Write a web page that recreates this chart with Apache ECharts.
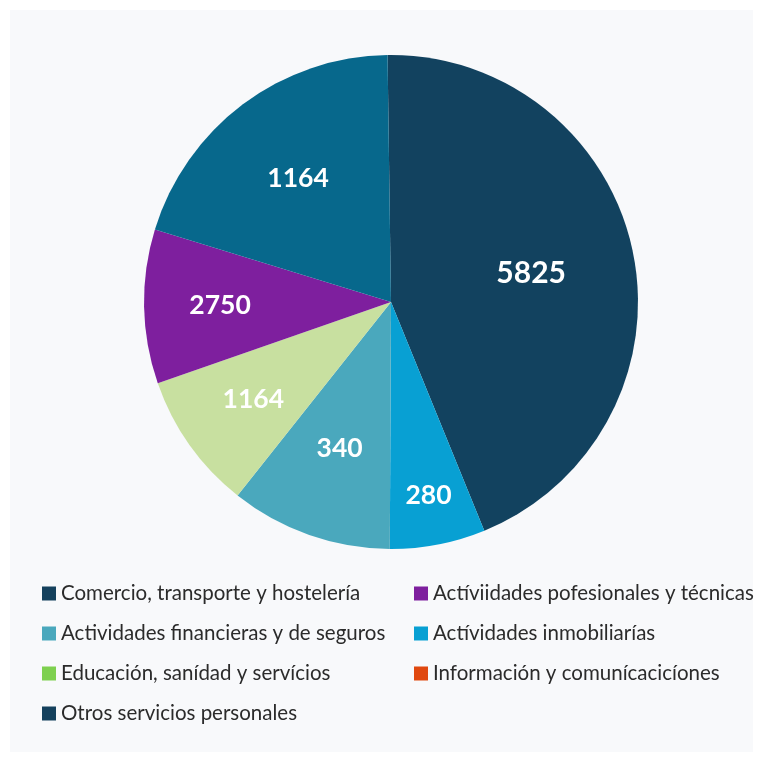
<!DOCTYPE html>
<html>
<head>
<meta charset="utf-8">
<script src="https://cdn.jsdelivr.net/npm/echarts@6/dist/echarts.min.js"></script>
<style>
  html, body { margin: 0; padding: 0; background: #ffffff; }
  #chart { width: 763px; height: 762px; }
</style>
</head>
<body>
<div id="chart"></div>
<script>
// Categories in clockwise slice order (starting at 12 o'clock)
const categories = [
  'Comercio, transporte y hostelería',
  'Actívidades inmobiliarías',
  'Actividades financieras y de seguros',
  'Educación, sanídad y servícios',
  'Actíviidades pofesionales y técnicas',
  'Otros servicios personales',
  'Información y comunícacicíones'
];
// Printed values on the slices
const labelValues = [5825, 280, 340, 1164, 2750, 1164, 0];
// Share of the circle (percent)
const sliceShares = [44.1, 6.25, 10.6, 9.0, 10.1, 20.05, 0];
// Slice colours
const sliceColors = ['#12425f', '#08a0d3', '#4aa8bd', '#c8e0a0', '#7e1f9e', '#07688c', '#e0480f'];
// Legend layout (two columns) and legend swatch colours
const legendLeft = [
  'Comercio, transporte y hostelería',
  'Actividades financieras y de seguros',
  'Educación, sanídad y servícios',
  'Otros servicios personales'
];
const legendRight = [
  'Actíviidades pofesionales y técnicas',
  'Actívidades inmobiliarías',
  'Información y comunícacicíones'
];
const legendColors = {
  'Comercio, transporte y hostelería': '#15415d',
  'Actividades financieras y de seguros': '#4aa8bd',
  'Educación, sanídad y servícios': '#7ed04f',
  'Otros servicios personales': '#15415d',
  'Actíviidades pofesionales y técnicas': '#7e1f9e',
  'Actívidades inmobiliarías': '#08a0d3',
  'Información y comunícacicíones': '#e0480f'
};

// Style: distance of each printed label from the pie centre (px)
const labelRing = [140, 194, 152, 166, 168, 152, 0];
const R = 247;
const CENTER = [391, 302];

const chart = echarts.init(document.getElementById('chart'), null, { renderer: 'canvas' });

const pieData = categories.map((name, i) => ({
  name: name,
  value: sliceShares[i],
  itemStyle: { color: sliceColors[i] }
}));

function legendItems(list) {
  return list.map(n => ({ name: n, itemStyle: { color: legendColors[n] } }));
}

const legendText = { fontFamily: 'Lato', fontSize: 20.5, color: '#2b2b2b', lineHeight: 20 };

// One transparent overlay ring per label so each label sits at its own distance
const labelSeries = [];
categories.forEach((name, k) => {
  if (!(labelValues[k] > 0)) return;
  const inner = Math.max(0, 2 * labelRing[k] - R);
  labelSeries.push({
    type: 'pie',
    center: CENTER,
    radius: [inner, R],
    startAngle: 90.8,
    clockwise: true,
    silent: true,
    legendHoverLink: false,
    itemStyle: { color: 'rgba(0,0,0,0)' },
    labelLine: { show: false },
    emphasis: { disabled: true },
    data: categories.map((n, i) => ({
      name: n,
      value: sliceShares[i],
      printed: labelValues[i],
      label: {
        show: i === k, position: 'inside',
        fontFamily: 'Lato', fontWeight: 'bold', color: '#ffffff',
        fontSize: i === 0 ? 30 : 26.5,
        formatter: p => String(p.data.printed)
      }
    }))
  });
});

chart.setOption({
  backgroundColor: '#ffffff',
  animation: false,
  graphic: [{
    type: 'rect', z: -10, silent: true,
    shape: { x: 10, y: 10, width: 743, height: 742 },
    style: { fill: '#f8f9fb' }
  }],
  legend: [
    {
      orient: 'vertical', left: 37, top: 578,
      icon: 'rect', itemWidth: 14, itemHeight: 14, itemGap: 19,
      textStyle: legendText, selectedMode: false,
      data: legendItems(legendLeft)
    },
    {
      orient: 'vertical', left: 409, top: 578,
      icon: 'rect', itemWidth: 14, itemHeight: 14, itemGap: 19,
      textStyle: legendText, selectedMode: false,
      data: legendItems(legendRight)
    }
  ],
  series: [
    {
      type: 'pie',
      center: CENTER,
      radius: [0, R],
      startAngle: 90.8,
      clockwise: true,
      label: { show: false },
      labelLine: { show: false },
      emphasis: { disabled: true },
      data: pieData
    }
  ].concat(labelSeries)
});
</script>
</body>
</html>
